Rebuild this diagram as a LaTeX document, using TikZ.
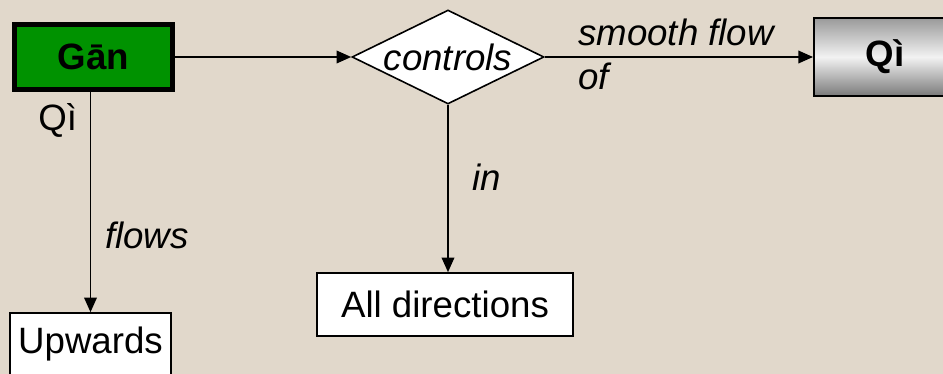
\documentclass[tikz,border=0pt]{standalone}
\usepackage{fontspec}
\setmainfont{Liberation Sans}
\usetikzlibrary{arrows.meta}
\usetikzlibrary{shapes.geometric}

\definecolor{paper}{RGB}{225,216,203}
\definecolor{ganfill}{RGB}{0,146,0}

\tikzset{
  box/.style={draw, fill=white, line width=1.2pt, inner sep=0pt},
  tag/.style={inner sep=0pt, font=\fontsize{27.5}{33}\selectfont\itshape},
  link/.style={->, >={Triangle[length=11pt, width=9.5pt]}, line width=1.2pt}
}

\begin{document}
\begin{tikzpicture}[x=0.75pt, y=-0.75pt, font=\fontsize{27.5}{33}\selectfont]

  % Paper background
  \path[use as bounding box, clip] (0,0) rectangle (943,374);
  \fill[paper] (0,0) rectangle (943,374);

  % Define nodes
  \node[draw, fill=ganfill, line width=3.75pt, minimum width=118.5pt, minimum height=48.75pt,
        font=\fontsize{27.5}{33}\selectfont\bfseries] (gan) at (93.5,57) {Gān};
  \node[diamond, draw, fill=white, line width=1.2pt, aspect=2, inner sep=0pt,
        minimum width=144pt, minimum height=70.5pt, font=\fontsize{27.5}{33}\selectfont\itshape] (ctrl) at (448,57) {controls};
  \node[draw, line width=1.5pt, top color=gray!80, bottom color=gray!95!black, middle color=gray!10,
        minimum width=106.5pt, minimum height=59pt, font=\fontsize{27.5}{33}\selectfont\bfseries] (qi) at (885,57) {Qì};
  \node[box, minimum width=192pt, minimum height=47.25pt] (dirs) at (445,304.5) {All directions};
  \node[box, minimum width=120.75pt, minimum height=47.25pt] (up) at (90.5,344.5) {Upwards};

  % Labels
  \node[tag, anchor=west, align=left] (flowof) at (578,54) {smooth flow\\of};
  \node[tag, anchor=base west] (in) at (472,191) {in};
  \node[tag, anchor=base west] (flows) at (105,248) {flows};
  \node[inner sep=0pt, anchor=base west] (qilbl) at (38,131) {Qì};

  % Connect the nodes
  \draw[link] (gan.east) -- (ctrl.west);
  \draw[link] (ctrl.east) -- (qi.west);
  \draw[link] (ctrl.south) -- (ctrl.south |- dirs.north);
  \draw[link] (gan.south -| up.north) -- (up.north);

\end{tikzpicture}
\end{document}
